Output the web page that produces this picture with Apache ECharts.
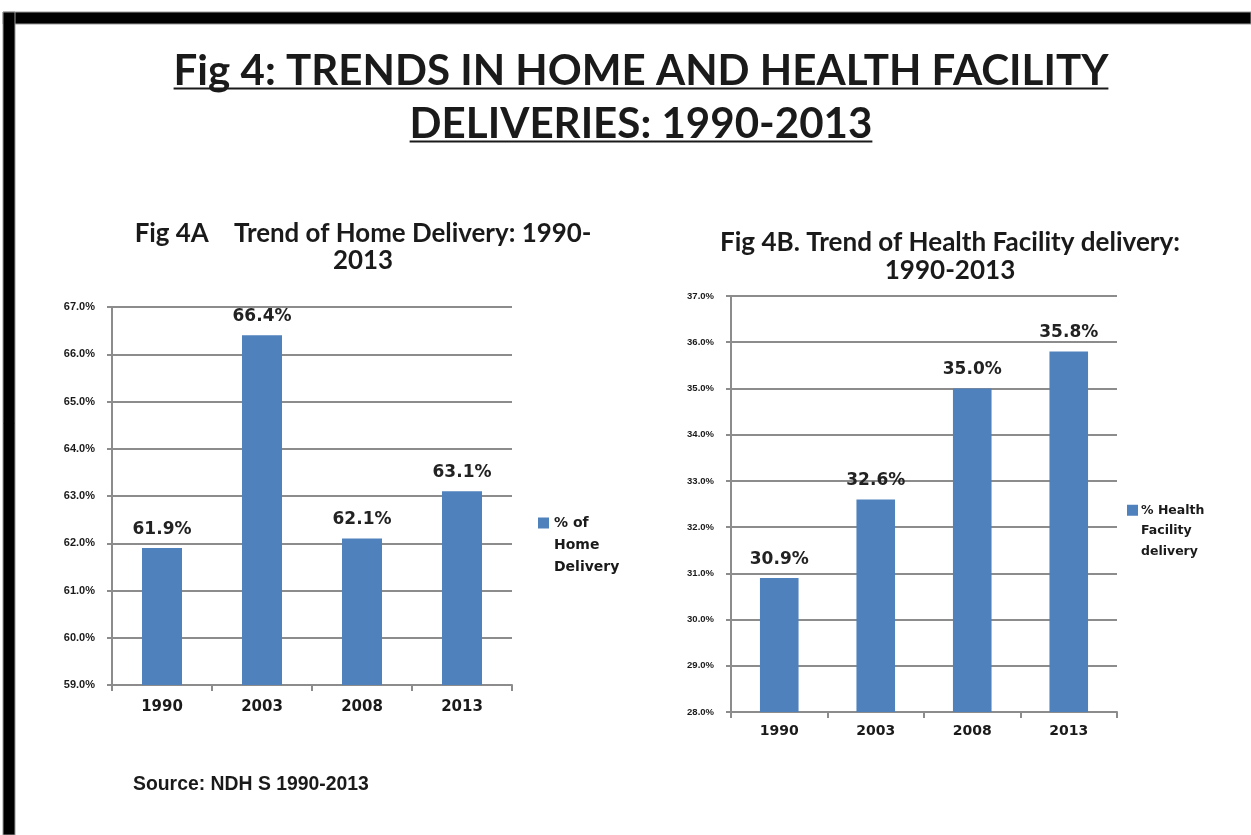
<!DOCTYPE html>
<html>
<head>
<meta charset="utf-8">
<title>Fig 4: Trends in home and health facility deliveries</title>
<script src="https://cdn.jsdelivr.net/npm/echarts@6/dist/echarts.min.js"></script>
<style>
  html, body { margin: 0; padding: 0; background: #fff; }
  #chart { width: 1251px; height: 835px; }
</style>
</head>
<body>
<div id="chart"></div>
<script>
// values
const years = ["1990", "2003", "2008", "2013"];
const homeDelivery = [61.9, 66.4, 62.1, 63.1];
const facilityDelivery = [30.9, 32.6, 35.0, 35.8];
const homeRange = [59, 67];
const facilityRange = [28, 37];

const mainTitle = ["Fig 4: TRENDS IN HOME AND HEALTH FACILITY", "DELIVERIES: 1990-2013"];
const titleA = ["Fig 4A    Trend of Home Delivery: 1990-", "2013"];
const titleB = ["Fig 4B. Trend of Health Facility delivery:", "1990-2013"];
const legendA = ["% of", "Home", "Delivery"];
const legendB = ["% Health", "Facility", "delivery"];
const sourceNote = "Source: NDH S 1990-2013";

const BAR = "#4f81bd";
const GRID = "#8c8c8c";
const INK = "#1a1a1a";
const HEAD_FONT = "Lato";
const NUM_FONT = "DejaVu Sans";
const TICK_FONT = "'Liberation Sans'";

// size the headings so they take the width they take in the picture
const ctx = document.createElement("canvas").getContext("2d");
function widthAt(text, family, size) {
  ctx.font = `bold ${size}px ${family}`;
  return ctx.measureText(text).width;
}
function fitSize(text, family, width) {
  return 100 * width / widthAt(text, family, 100);
}

const mainSize = fitSize(mainTitle[0], HEAD_FONT, 935);
const mainW1 = widthAt(mainTitle[0], HEAD_FONT, mainSize);
const mainW2 = widthAt(mainTitle[1], HEAD_FONT, mainSize);
const sizeA = fitSize(titleA[0], HEAD_FONT, 457);
const sizeB = fitSize(titleB[0], HEAD_FONT, 460);
const sourceSize = fitSize(sourceNote, TICK_FONT, 236);

const pct = (v) => v.toFixed(1) + "%";

function legendText(lines) {
  return "{sq|}{first|" + lines[0] + "}\n" +
    lines.slice(1).map((l) => "{rest|" + l + "}").join("\n");
}

function legendOpt(name, lines, left, top, size, lh, sq, gap) {
  const txt = { fontSize: size, fontWeight: "bold", fontFamily: NUM_FONT, lineHeight: lh, color: INK };
  return {
    data: [name],
    left, top,
    orient: "vertical",
    padding: 0,
    itemWidth: 0,
    itemHeight: 0,
    selectedMode: false,
    formatter: () => legendText(lines),
    textStyle: Object.assign({}, txt, {
      rich: {
        sq: { width: sq, height: sq, backgroundColor: BAR },
        first: Object.assign({ padding: [0, 0, 0, gap] }, txt),
        rest: Object.assign({ padding: [0, 0, 0, sq + gap] }, txt)
      }
    })
  };
}

function yAxisOpt(gridIndex, range, labelSize) {
  return {
    type: "value",
    gridIndex,
    min: range[0],
    max: range[1],
    interval: 1,
    axisLine: { show: true, lineStyle: { color: GRID, width: 2 } },
    axisTick: { show: true, length: 5, lineStyle: { color: GRID, width: 2 } },
    splitLine: { show: true, lineStyle: { color: GRID, width: 2 } },
    axisLabel: {
      margin: 17,
      formatter: pct,
      fontFamily: TICK_FONT,
      fontWeight: "bold",
      fontSize: labelSize,
      color: INK
    }
  };
}

function xAxisOpt(gridIndex, labelSize, margin) {
  return {
    type: "category",
    gridIndex,
    data: years,
    axisLine: { show: true, lineStyle: { color: GRID, width: 2 } },
    axisTick: { show: true, alignWithLabel: false, length: 6, lineStyle: { color: GRID, width: 2 } },
    axisLabel: {
      margin,
      fontFamily: NUM_FONT,
      fontWeight: "bold",
      fontSize: labelSize,
      color: INK
    }
  };
}

function barSeries(name, idx, values) {
  return {
    type: "bar",
    name,
    xAxisIndex: idx,
    yAxisIndex: idx,
    data: values,
    barWidth: "40%",
    itemStyle: { color: BAR },
    label: {
      show: true,
      position: "top",
      distance: 10,
      formatter: (p) => pct(p.value),
      fontFamily: NUM_FONT,
      fontWeight: "bold",
      fontSize: 17,
      color: "#222"
    }
  };
}

const chart = echarts.init(document.getElementById("chart"), null, { renderer: "canvas" });

chart.setOption({
  backgroundColor: "#fff",
  animation: false,
  title: [
    {
      text: mainTitle.join("\n"),
      left: 641, top: 45, padding: 0, textAlign: "center",
      textStyle: { fontFamily: HEAD_FONT, fontWeight: "bold", fontSize: mainSize, lineHeight: 53, color: INK }
    },
    {
      text: titleA.join("\n"),
      left: 363, top: 220, padding: 0, textAlign: "center",
      textStyle: { fontFamily: HEAD_FONT, fontWeight: "bold", fontSize: sizeA, lineHeight: 27, color: INK }
    },
    {
      text: titleB.join("\n"),
      left: 950, top: 229, padding: 0, textAlign: "center",
      textStyle: { fontFamily: HEAD_FONT, fontWeight: "bold", fontSize: sizeB, lineHeight: 28, color: INK }
    },
    {
      text: sourceNote,
      left: 133, top: 775, padding: 0,
      textStyle: { fontFamily: TICK_FONT, fontWeight: "bold", fontSize: sourceSize, color: INK }
    }
  ],
  legend: [
    legendOpt("% of Home Delivery", legendA, 533, 512, 14, 22, 11, 5),
    legendOpt("% Health Facility delivery", legendB, 1122, 500, 12.5, 20.5, 11, 3)
  ],
  grid: [
    { left: 112, top: 307, width: 400, height: 378 },
    { left: 731, top: 296, width: 386, height: 416 }
  ],
  xAxis: [xAxisOpt(0, 15, 15), xAxisOpt(1, 14, 12)],
  yAxis: [yAxisOpt(0, homeRange, 11), yAxisOpt(1, facilityRange, 9.5)],
  series: [
    barSeries("% of Home Delivery", 0, homeDelivery),
    barSeries("% Health Facility delivery", 1, facilityDelivery)
  ],
  graphic: [
    // frame: black band along the top and the left edge
    { type: "rect", shape: { x: 3, y: 12, width: 1248, height: 12 }, style: { fill: "#000", stroke: "#999", lineWidth: 1 } },
    { type: "rect", shape: { x: 3, y: 12, width: 12, height: 823 }, style: { fill: "#000", stroke: "#999", lineWidth: 1 } },
    // underline of the main title
    { type: "line", shape: { x1: 641 - mainW1 / 2, y1: 88.5, x2: 641 + mainW1 / 2, y2: 88.5 }, style: { stroke: INK, lineWidth: 2 } },
    { type: "line", shape: { x1: 641 - mainW2 / 2, y1: 141.5, x2: 641 + mainW2 / 2, y2: 141.5 }, style: { stroke: INK, lineWidth: 2 } }
  ]
});
</script>
</body>
</html>
